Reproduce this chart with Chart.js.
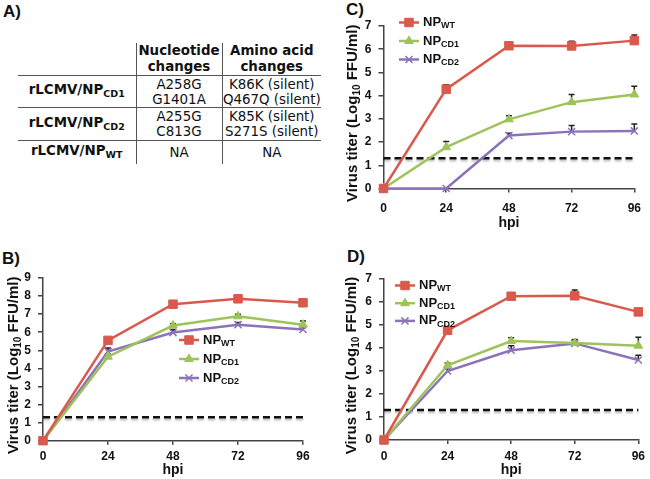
<!DOCTYPE html>
<html>
<head>
<meta charset="utf-8">
<script src="https://cdn.jsdelivr.net/npm/chart.js@4/dist/chart.umd.min.js"></script>
<style>
  body { margin: 0; width: 650px; height: 479px; background: #fff; position: relative; overflow: hidden; }
  .panel { position: absolute; font: bold 17px "Liberation Sans", Arial, sans-serif; color: #111; }
  canvas { position: absolute; }
  #tbl { position: absolute; left: 18px; top: 43px; border-collapse: collapse; table-layout: fixed;
         font: 13.4px "DejaVu Sans", Verdana, sans-serif; color: #111; }
  #tbl td { padding: 0; text-align: center; vertical-align: middle; line-height: 15px; white-space: nowrap; }
  #tbl .b { font-weight: bold; }
  #tbl .c1, #tbl .c2 { border-left: 1.5px solid #555; }
  #tbl tr.ln td { border-bottom: 1.5px solid #555; }
  #tbl sub { font-size: 9.5px; vertical-align: -3px; }
  #tbl tr.hd td { line-height: 16px; }
</style>
</head>
<body>
<div class="panel" style="left:3px;top:2px">A)</div>
<div class="panel" style="left:2px;top:249px">B)</div>
<div class="panel" style="left:346px;top:0px">C)</div>
<div class="panel" style="left:347px;top:247px">D)</div>

<table id="tbl">
  <colgroup><col style="width:118px"><col style="width:86px"><col style="width:99px"></colgroup>
  <tr class="hd ln" style="height:32px"><td></td><td class="c1 b">Nucleotide<br>changes</td><td class="c2 b">Amino acid<br>changes</td></tr>
  <tr class="ln" style="height:32px"><td class="b">rLCMV/NP<sub>CD1</sub></td><td class="c1">A258G<br>G1401A</td><td class="c2">K86K (silent)<br>Q467Q (silent)</td></tr>
  <tr class="ln" style="height:33px"><td class="b">rLCMV/NP<sub>CD2</sub></td><td class="c1">A255G<br>C813G</td><td class="c2">K85K (silent)<br>S271S (silent)</td></tr>
  <tr style="height:23px"><td class="b">rLCMV/NP<sub>WT</sub></td><td class="c1">NA</td><td class="c2">NA</td></tr>
</table>

<canvas id="chartC" width="320" height="240" style="left:330px;top:0px"></canvas>
<canvas id="chartB" width="330" height="239" style="left:0px;top:240px"></canvas>
<canvas id="chartD" width="320" height="239" style="left:330px;top:240px"></canvas>

<script>
// hours post infection
const hpi = [0, 24, 48, 72, 96];
const detectionLimit = 1.3;

const seriesNames = ["WT", "CD1", "CD2"];
const seriesColors = ["#d9594c", "#9dc35a", "#8c72b8"];
const seriesMarkers = ["rect", "triangle", "crossRot"];

// panel B
const bWT = [0, 5.55, 7.55, 7.85, 7.63];
const bCD1 = [0, 4.65, 6.37, 6.88, 6.42];
const bCD2 = [0, 4.93, 5.98, 6.42, 6.15];
const bWTErr = [0, 0.08, 0.08, 0.1, 0.08];
const bCD1Err = [0, 0.1, 0.1, 0.12, 0.2];
const bCD2Err = [0, 0.2, 0.17, 0.12, 0.1];

// panel C
const cWT = [0, 4.28, 6.15, 6.14, 6.37];
const cCD1 = [0, 1.78, 2.98, 3.72, 4.05];
const cCD2 = [0, 0, 2.28, 2.45, 2.48];
const cWTErr = [0, 0.19, 0.06, 0.2, 0.24];
const cCD1Err = [0, 0.25, 0.15, 0.33, 0.36];
const cCD2Err = [0, 0, 0.1, 0.26, 0.3];

// panel D
const dWT = [0, 4.77, 6.25, 6.27, 5.57];
const dCD1 = [0, 3.25, 4.3, 4.22, 4.1];
const dCD2 = [0, 3.0, 3.9, 4.2, 3.48];
const dWTErr = [0, 0.08, 0.05, 0.25, 0.08];
const dCD1Err = [0, 0.1, 0.15, 0.15, 0.37];
const dCD2Err = [0, 0.08, 0.2, 0.12, 0.2];

const FONT = '"Liberation Sans", Arial, sans-serif';

// text with a subscript part, drawn left to right from x
function drawRich(ctx, parts, x, y, size) {
  ctx.textBaseline = "middle";
  ctx.textAlign = "left";
  for (const p of parts) {
    ctx.font = "bold " + (p.sub ? Math.round(size * 0.68) : size) + "px " + FONT;
    ctx.fillText(p.t, x, p.sub ? y + size * 0.25 : y);
    x += ctx.measureText(p.t).width;
  }
}
function richWidth(ctx, parts, size) {
  let w = 0;
  for (const p of parts) {
    ctx.font = "bold " + (p.sub ? Math.round(size * 0.68) : size) + "px " + FONT;
    w += ctx.measureText(p.t).width;
  }
  return w;
}

function decor(p) {
  return {
    id: "decor",
    beforeDatasetsDraw(chart) {
      // error bars (upper only), under the markers
      const ctx = chart.ctx, xs = chart.scales.x, ys = chart.scales.y;
      ctx.save();
      ctx.strokeStyle = "#222";
      ctx.lineWidth = 1.5;
      p.errors.forEach((errs, s) => errs.forEach((e, j) => {
        if (!e) return;
        const x = xs.getPixelForValue(hpi[j]);
        const y0 = ys.getPixelForValue(p.values[s][j]);
        const y1 = ys.getPixelForValue(p.values[s][j] + e);
        ctx.beginPath();
        ctx.moveTo(x, y0); ctx.lineTo(x, y1);
        ctx.moveTo(x - 3, y1); ctx.lineTo(x + 3, y1);
        ctx.stroke();
      }));
      ctx.restore();
    },
    beforeDatasetDraw(chart, args) {
      if (args.meta.label !== "limit") return;
      const ctx = chart.ctx;
      ctx.save();
      ctx.shadowColor = "rgba(0,0,0,0.25)";
      ctx.shadowOffsetY = 2;
      ctx.shadowBlur = 2;
    },
    afterDatasetDraw(chart, args) {
      if (args.meta.label === "limit") chart.ctx.restore();
    },
    afterDraw(chart) {
      const ctx = chart.ctx, a = chart.chartArea;
      ctx.save();
      ctx.fillStyle = "#111";
      // y title
      const yt = [{ t: "Virus titer (Log" }, { t: "10", sub: true }, { t: " FFU/ml)" }];
      const w = richWidth(ctx, yt, 15);
      ctx.save();
      ctx.translate(p.titleX, (a.top + a.bottom) / 2 + 6);
      ctx.rotate(-Math.PI / 2);
      drawRich(ctx, yt, -w / 2, 0, 15);
      ctx.restore();
      // x title
      ctx.font = "bold 14px " + FONT;
      ctx.textAlign = "center";
      ctx.textBaseline = "middle";
      ctx.fillText("hpi", (a.left + a.right) / 2, p.hpiY);
      // legend
      seriesNames.forEach((name, i) => {
        const y = p.legend.y + i * p.legend.gap;
        ctx.strokeStyle = seriesColors[i];
        ctx.fillStyle = seriesColors[i];
        ctx.lineWidth = 2.5;
        ctx.beginPath();
        ctx.moveTo(p.legend.x, y); ctx.lineTo(p.legend.x + 20, y);
        ctx.stroke();
        ctx.lineWidth = i === 2 ? 1.5 : 1;
        if (Chart.helpers && Chart.helpers.drawPoint) {
          Chart.helpers.drawPoint(ctx, { pointStyle: seriesMarkers[i], radius: i === 0 ? 6 : 5, rotation: 0, borderWidth: ctx.lineWidth }, p.legend.x + 10, y);
        }
        ctx.fillStyle = "#111";
        drawRich(ctx, [{ t: "NP" }, { t: name, sub: true }], p.legend.x + 24, y, 13);
      });
      ctx.restore();
    }
  };
}

function makeChart(p) {
  const datasets = p.values.map((vals, i) => ({
    label: "NP" + seriesNames[i],
    data: hpi.map((h, j) => ({ x: h, y: vals[j] })),
    borderColor: seriesColors[i],
    backgroundColor: seriesColors[i],
    borderWidth: 2.5,
    pointStyle: seriesMarkers[i],
    pointRadius: i === 0 ? 6 : 5,
    pointBorderWidth: i === 2 ? 1.5 : 1,
    clip: false
  }));
  datasets.push({
    label: "limit",
    data: [{ x: 0, y: detectionLimit }, { x: 96, y: detectionLimit }],
    borderColor: "#111",
    borderWidth: 2.5,
    borderDash: [7, 4],
    pointRadius: 0,
    clip: false
  });

  const tickFont = { family: FONT, size: 12, weight: "bold" };
  new Chart(document.getElementById(p.id).getContext("2d"), {
    type: "line",
    data: { datasets },
    options: {
      responsive: false,
      animation: false,
      devicePixelRatio: 1,
      layout: { padding: p.pad },
      plugins: { legend: { display: false }, tooltip: { enabled: false } },
      scales: {
        x: {
          type: "linear", min: 0, max: 96,
          ticks: { stepSize: 24, color: "#111", font: tickFont, padding: p.xTickPad, maxRotation: 0, autoSkip: false },
          grid: { drawOnChartArea: false, drawTicks: true, tickLength: 4, color: "#444", lineWidth: 1.5 },
          border: { display: true, color: "#444", width: 1.5 },
          afterFit: (s) => { s.height = p.xH; }
        },
        y: {
          min: 0, max: p.yMax,
          ticks: { stepSize: 1, color: "#111", font: tickFont, padding: 7 },
          grid: { drawOnChartArea: false, drawTicks: true, tickLength: 5, color: "#444", lineWidth: 1.5 },
          border: { display: true, color: "#444", width: 1.5 },
          afterFit: (s) => { s.width = p.yW; }
        }
      }
    },
    plugins: [decor(p)]
  });
}

makeChart({
  id: "chartC", yMax: 7,
  values: [cWT, cCD1, cCD2], errors: [cWTErr, cCD1Err, cCD2Err],
  pad: { left: 0, right: 7, top: 26, bottom: 0 }, yW: 53.5, xH: 51.5, xTickPad: 9,
  titleX: 23, hpiY: 223, legend: { x: 69, y: 22.5, gap: 18.5 }
});
makeChart({
  id: "chartB", yMax: 9,
  values: [bWT, bCD1, bCD2], errors: [bWTErr, bCD1Err, bCD2Err],
  pad: { left: 0, right: 27, top: 38, bottom: 0 }, yW: 43, xH: 38.3, xTickPad: 5,
  titleX: 14, hpiY: 230, legend: { x: 179, y: 100, gap: 19 }
});
makeChart({
  id: "chartD", yMax: 7,
  values: [dWT, dCD1, dCD2], errors: [dWTErr, dCD1Err, dCD2Err],
  pad: { left: 0, right: 7, top: 39, bottom: 0 }, yW: 54, xH: 39, xTickPad: 5,
  titleX: 22, hpiY: 230, legend: { x: 65, y: 45.5, gap: 17.7 }
});
</script>
</body>
</html>
